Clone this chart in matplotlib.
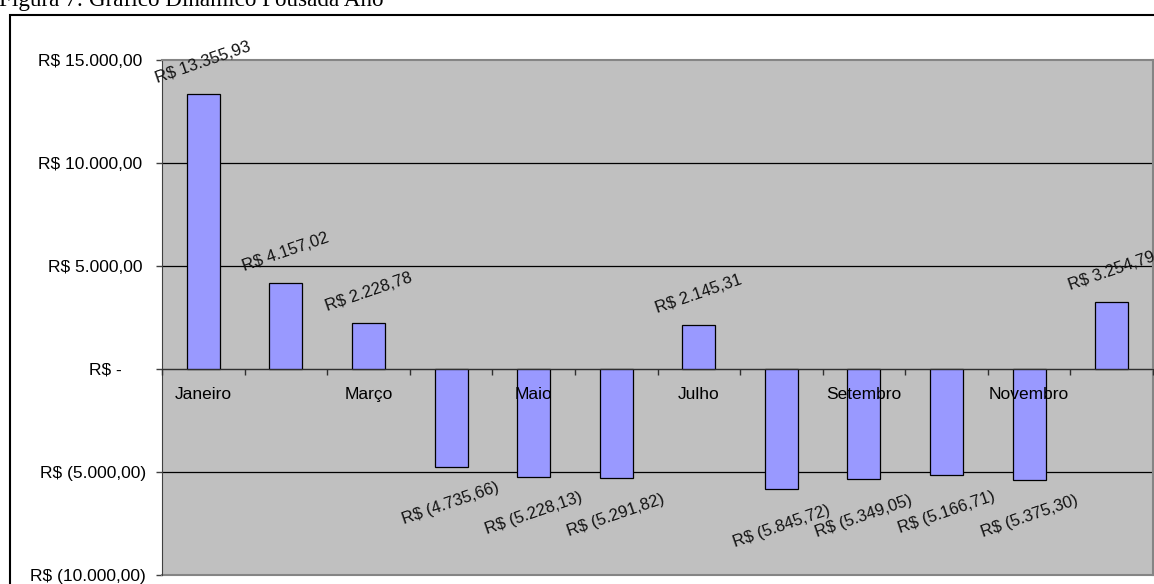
import matplotlib
matplotlib.use("Agg")
import matplotlib.pyplot as plt
import numpy as np
from matplotlib.patches import Rectangle

plt.rcParams["font.family"] = ["Liberation Sans", "DejaVu Sans"]

meses = ["Janeiro", "Fevereiro", "Março", "Abril", "Maio", "Junho",
         "Julho", "Agosto", "Setembro", "Outubro", "Novembro", "Dezembro"]
resultado = [13355.93, 4157.02, 2228.78, -4735.66, -5228.13, -5291.82,
             2145.31, -5845.72, -5349.05, -5166.71, -5375.30, 3254.79]
y_ticks = [-10000, -5000, 0, 5000, 10000, 15000]


def brl(v):
    # formato contábil: R$ 1.234,56 / R$ (1.234,56) / R$ -
    if abs(v) < 0.005:
        return "R$ -"
    s = f"{abs(v):,.2f}".replace(",", "X").replace(".", ",").replace("X", ".")
    return f"R$ ({s})" if v < 0 else f"R$ {s}"


fig = plt.figure(figsize=(11.54, 5.84), dpi=100)
fig.patch.set_facecolor("white")

# moldura do gráfico (sai pela direita e por baixo)
fig.add_artist(Rectangle((9.5 / 1154, -0.2), 1.2, 1.2 - 15 / 584,
                         transform=fig.transFigure, fill=False,
                         edgecolor="black", linewidth=1.5, clip_on=False))
fig.text(-0.001, 1 - 6 / 584, "Figura 7: Gráfico Dinâmico Pousada Ano",
         family=["Liberation Serif", "DejaVu Serif"], fontsize=16.7,
         ha="left", va="baseline")

ax = fig.add_axes([162 / 1154, 9 / 584, 991 / 1154, 515 / 584])
ax.set_facecolor("#C0C0C0")

x = np.arange(len(meses))
ax.bar(x, resultado, width=0.4, color="#9999FF", edgecolor="black",
       linewidth=0.9, zorder=1)

for xi, v in zip(x, resultado):
    dy = 22.3 if v >= 0 else -26.6
    ax.annotate(brl(v), (xi, v), xytext=(0, dy), textcoords="offset points",
                ha="center", va="center", rotation=19, fontsize=12,
                color="#111111", zorder=4)

ax.set_xlim(-0.5, len(meses) - 0.5)
ax.set_ylim(y_ticks[0], y_ticks[-1])

# eixo Y
ax.set_yticks(y_ticks)
ax.set_yticklabels([brl(v) for v in y_ticks], fontsize=12.5)
ax.tick_params(axis="y", length=4, width=1, color="#404040", direction="out")
ax.yaxis.grid(True, color="black", linewidth=0.9)
ax.yaxis.set_zorder(0.5)
for t, v in zip(ax.yaxis.get_major_ticks(), y_ticks):
    if v > 0:
        t.set_pad(10.3)
    elif v < 0:
        t.set_pad(7.4)
    else:
        t.set_pad(24.8)
    if v in (y_ticks[0], y_ticks[-1]):
        t.gridline.set_visible(False)

# eixo X na linha do zero, rótulos em meses alternados
ax.spines["bottom"].set_position(("data", 0))
ax.spines["bottom"].set_color("#303030")
ax.spines["left"].set_color("#404040")
for s in ("top", "right"):
    ax.spines[s].set_color("#858585")
    ax.spines[s].set_linewidth(1.5)
ax.plot([0, 1], [0, 0], transform=ax.transAxes, color="#858585",
        linewidth=1.5, clip_on=False)

ax.set_xticks(x)
ax.set_xticklabels([m if i % 2 == 0 else "" for i, m in enumerate(meses)],
                   fontsize=12.5)
ax.set_xticks(np.arange(-0.5, len(meses), 1), minor=True)
ax.tick_params(axis="x", which="major", length=0, pad=13)
ax.tick_params(axis="x", which="minor", length=4, width=1,
               color="#303030", direction="out")
ax.xaxis.set_zorder(3)

fig.savefig("out.png", dpi=100)
